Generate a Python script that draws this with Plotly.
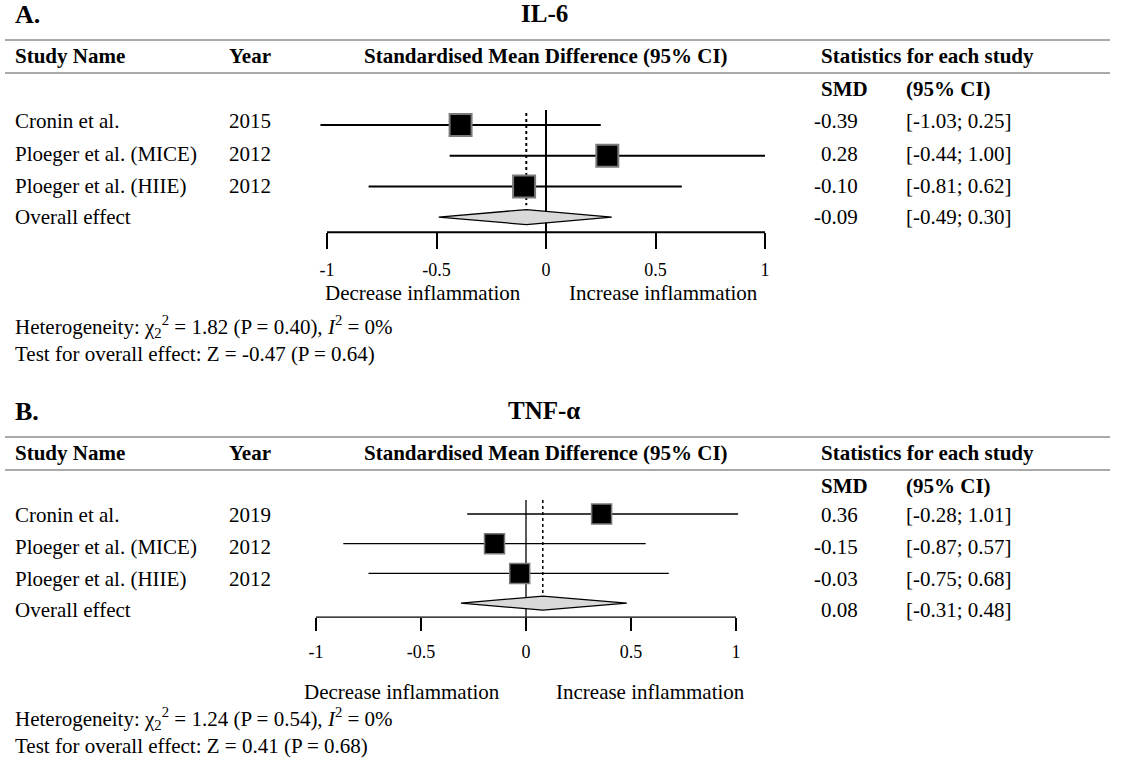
import plotly.graph_objects as go

W, H = 1128, 764

# ---------------- data ----------------
studies = ["Cronin et al.", "Ploeger et al. (MICE)", "Ploeger et al. (HIIE)"]
overall_label = "Overall effect"

il6_years = ["2015", "2012", "2012"]
il6_smd = [-0.39, 0.28, -0.10]
il6_lo = [-1.03, -0.44, -0.81]
il6_hi = [0.25, 1.00, 0.62]
il6_overall = [-0.09, -0.49, 0.30]   # smd, lo, hi
il6_het = "Heterogeneity: χ<sub>2</sub><sup>2</sup> = 1.82 (P = 0.40), <i>I</i><sup>2</sup> = 0%"
il6_test = "Test for overall effect: Z = -0.47 (P = 0.64)"

tnf_years = ["2019", "2012", "2012"]
tnf_smd = [0.36, -0.15, -0.03]
tnf_lo = [-0.28, -0.87, -0.75]
tnf_hi = [1.01, 0.57, 0.68]
tnf_overall = [0.08, -0.31, 0.48]
tnf_het = "Heterogeneity: χ<sub>2</sub><sup>2</sup> = 1.24 (P = 0.54), <i>I</i><sup>2</sup> = 0%"
tnf_test = "Test for overall effect: Z = 0.41 (P = 0.68)"

tick_vals = [-1, -0.5, 0, 0.5, 1]
tick_text = ["-1", "-0.5", "0", "0.5", "1"]

FONT = "Liberation Serif"
BODY = 21


def px(x):
    return x / W


def py(y):
    return 1 - y / H


fig = go.Figure()
annotations = []
shapes = []


def txt(x, y, s, size=BODY, bold=False, anchor="left"):
    if bold:
        s = "<b>" + s + "</b>"
    annotations.append(dict(
        x=px(x), y=py(y), xref="paper", yref="paper", text=s, showarrow=False,
        xanchor=anchor, yanchor="middle", borderpad=0,
        font=dict(family=FONT, size=size, color="black")))


def panel(idx, letter, title, years, smd, lo, hi, overall, het, test, g):
    xa = "x" if idx == 1 else "x2"
    ya = "y" if idx == 1 else "y2"
    lw = g["lw"]
    # CI lines
    xs, ys = [], []
    for i in range(len(smd)):
        xs += [lo[i], hi[i], None]
        ys += [i, i, None]
    fig.add_trace(go.Scatter(x=xs, y=ys, mode="lines", xaxis=xa, yaxis=ya,
                             line=dict(color="black", width=lw), hoverinfo="skip"))
    # zero line
    fig.add_trace(go.Scatter(x=[0, 0], y=[g["ztop"], g["axrow"]], mode="lines",
                             xaxis=xa, yaxis=ya, line=dict(color="black", width=lw)))
    # overall effect reference line
    fig.add_trace(go.Scatter(x=[overall[0], overall[0]], y=[g["dtop"], g["dbot"]],
                             mode="lines", xaxis=xa, yaxis=ya,
                             line=dict(color="black", width=g["dw"], dash=g["dash"])))
    # baseline of axis
    fig.add_trace(go.Scatter(x=[tick_vals[0], tick_vals[-1]], y=[g["axrow"], g["axrow"]],
                             mode="lines", xaxis=xa, yaxis=ya,
                             line=dict(color="black", width=lw)))
    # squares
    fig.add_trace(go.Scatter(x=smd, y=list(range(len(smd))), mode="markers",
                             xaxis=xa, yaxis=ya,
                             marker=dict(symbol="square", size=g["msize"], color="black",
                                         line=dict(color="#7a7a7a", width=g["mlw"]))))
    # diamond
    n = len(smd)
    h = g["dh"]
    fig.add_trace(go.Scatter(x=[overall[1], overall[0], overall[2], overall[0], overall[1]],
                             y=[n, n - h, n, n + h, n], mode="lines", fill="toself",
                             fillcolor="#d9d9d9", xaxis=xa, yaxis=ya,
                             line=dict(color="black", width=1.3)))

    t0 = g["top"]
    txt(14, t0 + 15, letter + ".", size=26, bold=True)
    txt(544, t0 + 13, title, size=25, bold=True, anchor="center")
    shapes.append(dict(type="line", xref="paper", yref="paper", x0=px(5), x1=px(1110),
                       y0=py(t0 + 40), y1=py(t0 + 40), line=dict(color="#555", width=1)))
    txt(14, t0 + 56, "Study Name", bold=True)
    txt(228, t0 + 56, "Year", bold=True)
    txt(546, t0 + 56, "Standardised Mean Difference (95% CI)", bold=True, anchor="center")
    txt(820, t0 + 56, "Statistics for each study", bold=True)
    shapes.append(dict(type="line", xref="paper", yref="paper", x0=px(5), x1=px(1110),
                       y0=py(t0 + 73), y1=py(t0 + 73), line=dict(color="#555", width=1)))
    txt(820, t0 + 89, "SMD", bold=True)
    txt(905, t0 + 89, "(95% CI)", bold=True)
    rows = g["textrows"]
    labels = studies + [overall_label]
    yrs = years + [""]
    smds = smd + [overall[0]]
    los = lo + [overall[1]]
    his = hi + [overall[2]]
    for i in range(4):
        txt(14, rows[i], labels[i])
        if yrs[i]:
            txt(228, rows[i], yrs[i])
        txt(859, rows[i], f"{smds[i]:.2f}", anchor="right")
        txt(905, rows[i], f"[{los[i]:.2f}; {his[i]:.2f}]")
    txt(g["decx"], g["decy"], "Decrease inflammation", anchor="right")
    txt(g["incx"], g["decy"], "Increase inflammation", anchor="left")
    txt(14, g["hety"], het)
    txt(14, g["hety"] + 28, test)


gA = dict(lw=2, dw=2, dash="dot", msize=22, mlw=2, dh=0.245,
          ztop=-0.49, axrow=3.49, dtop=-0.39, dbot=2.61,
          top=0, textrows=[121, 154, 186, 217], decx=522, incx=568, decy=293, hety=326)
gB = dict(lw=1.3, dw=1.5, dash="3px,3px", msize=20, mlw=1.5, dh=0.235,
          ztop=-0.47, axrow=3.47, dtop=-0.47, dbot=2.76,
          top=397, textrows=[515, 547, 579, 610], decx=501, incx=555, decy=692, hety=718)

panel(1, "A", "IL-6", il6_years, il6_smd, il6_lo, il6_hi, il6_overall, il6_het, il6_test, gA)
panel(2, "B", "TNF-α", tnf_years, tnf_smd, tnf_lo, tnf_hi, tnf_overall, tnf_het, tnf_test, gB)

# axis geometry (pixels)
A0, AS, AR0, ARS = 546, 219, 125, 30.7
B0, BS, BR0, BRS = 526, 210, 514, 29.7
rng = 1.2
yr = [3.6, -0.6]


def xdom(c, s):
    return [px(c - rng * s), px(c + rng * s)]


def ydom(r0, rs):
    return [py(r0 + yr[0] * rs), py(r0 + yr[1] * rs)]


common_x = dict(range=[-rng, rng], showgrid=False, zeroline=False, showline=False,
                ticks="outside", tickvals=tick_vals, ticktext=tick_text,
                tickcolor="black", anchor="free",
                tickfont=dict(family=FONT, size=18, color="black"))
common_y = dict(range=yr, showgrid=False, zeroline=False, showline=False,
                showticklabels=False, ticks="")

fig.update_layout(
    width=W, height=H, margin=dict(l=0, r=0, t=0, b=0),
    paper_bgcolor="white", plot_bgcolor="rgba(0,0,0,0)", showlegend=False,
    xaxis=dict(common_x, domain=xdom(A0, AS), position=py(AR0 + 3.49 * ARS),
               ticklen=16, tickwidth=2, ticklabelstandoff=5),
    yaxis=dict(common_y, domain=ydom(AR0, ARS), anchor="x"),
    xaxis2=dict(common_x, domain=xdom(B0, BS), position=py(BR0 + 3.47 * BRS),
                ticklen=13, tickwidth=1.5, ticklabelstandoff=5),
    yaxis2=dict(common_y, domain=ydom(BR0, BRS), anchor="x2"),
    annotations=annotations, shapes=shapes,
)

fig.write_html("out.html", config={"displayModeBar": False},
               post_script="document.body.style.margin='0';document.body.style.padding='0';")
